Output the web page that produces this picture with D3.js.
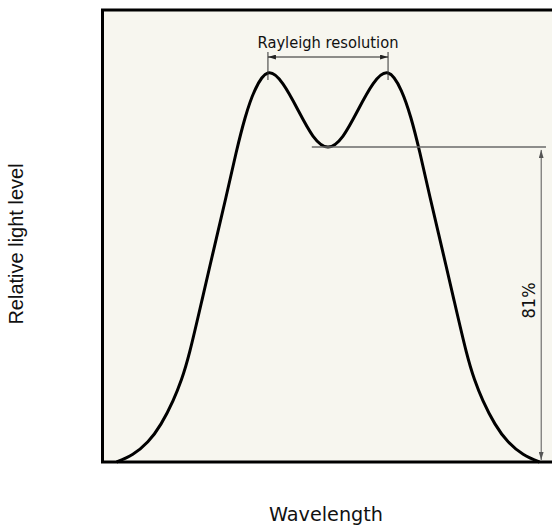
<!DOCTYPE html>
<html>
<head>
<meta charset="utf-8">
<script src="https://cdn.jsdelivr.net/npm/d3@7"></script>
<style>
  html, body { margin: 0; padding: 0; background: #ffffff; }
  svg { display: block; }
</style>
</head>
<body>
<svg id="chart" width="552" height="527"></svg>
<script>
// Two overlapping spectral lines at the Rayleigh limit (wavelength in arbitrary units)
const wavelength = [-3.52, -3.25, -3.0, -2.78, -2.58, -2.44, -2.3, -2.1, -1.9, -1.7, -1.53, -1.38, -1.22, -1.0,
                    -0.75, -0.5, -0.25, 0, 0.25, 0.5, 0.75,
                    1.0, 1.22, 1.38, 1.53, 1.7, 1.9, 2.1, 2.3, 2.44, 2.58, 2.78, 3.0, 3.25, 3.52];
const level = [0, 0.02, 0.052, 0.098, 0.158, 0.212, 0.285, 0.415, 0.548, 0.68, 0.795, 0.885, 0.955, 1.0,
               0.972, 0.905, 0.838, 0.81, 0.838, 0.905, 0.972,
               1.0, 0.955, 0.885, 0.795, 0.68, 0.548, 0.415, 0.285, 0.212, 0.158, 0.098, 0.052, 0.02, 0];

// Annotated features
const peakPositions = [-1.0, 1.0];
const peakLevel = 1.0;
const dipPosition = 0;
const dipLevel = 0.81;
const axisTitles = { x: "Wavelength", y: "Relative light level" };
const resolutionLabel = "Rayleigh resolution";

const svg = d3.select("#chart");

const x = d3.scaleLinear().domain([-3.78, 3.78]).range([101, 555]);
const y = d3.scaleLinear().domain([0, 1.162]).range([462, 10]);

const labelFont = "'DejaVu Sans', Verdana, sans-serif";

// Plot frame
svg.append("rect")
  .attr("x", x(-3.78) + 1.5)
  .attr("y", y(1.162))
  .attr("width", x(3.78) - x(-3.78))
  .attr("height", y(0) - y(1.162))
  .attr("fill", "#f7f6ef")
  .attr("stroke", "#000")
  .attr("stroke-width", 3);

// Arrowhead markers
const defs = svg.append("defs");
function marker(id, color) {
  defs.append("marker")
    .attr("id", id)
    .attr("viewBox", "0 0 10 6")
    .attr("refX", 10).attr("refY", 3)
    .attr("markerWidth", 8).attr("markerHeight", 5)
    .attr("markerUnits", "userSpaceOnUse")
    .attr("orient", "auto-start-reverse")
    .append("path")
    .attr("d", "M0,0 L10,3 L0,6 Z")
    .attr("fill", color);
}
marker("arrDark", "#222");
marker("arrGrey", "#555");

// Intensity profile (smooth spline through the sampled levels)
const line = d3.line()
  .x((d, i) => x(wavelength[i]))
  .y(d => y(d))
  .curve(d3.curveNatural);

svg.append("path")
  .datum(level)
  .attr("d", line)
  .attr("fill", "none")
  .attr("stroke", "#000")
  .attr("stroke-width", 3)
  .attr("stroke-linejoin", "round");

// Rayleigh resolution: separation between the two peaks
const py = y(peakLevel);
peakPositions.forEach(p => {
  svg.append("line")
    .attr("x1", x(p)).attr("x2", x(p))
    .attr("y1", py - 21).attr("y2", py + 7)
    .attr("stroke", "#333").attr("stroke-width", 1);
});
svg.append("line")
  .attr("x1", x(peakPositions[0])).attr("x2", x(peakPositions[1]))
  .attr("y1", py - 16).attr("y2", py - 16)
  .attr("stroke", "#222").attr("stroke-width", 1)
  .attr("marker-start", "url(#arrDark)")
  .attr("marker-end", "url(#arrDark)");
svg.append("text")
  .attr("x", x((peakPositions[0] + peakPositions[1]) / 2))
  .attr("y", py - 25)
  .attr("text-anchor", "middle")
  .attr("font-family", labelFont)
  .attr("font-size", 16)
  .attr("textLength", 141)
  .attr("lengthAdjust", "spacingAndGlyphs")
  .attr("fill", "#111")
  .text(resolutionLabel);

// Dip level relative to peak
const dy = y(dipLevel);
svg.append("line")
  .attr("x1", x(-0.27)).attr("x2", x(3.63))
  .attr("y1", dy).attr("y2", dy)
  .attr("stroke", "#6a6a6a").attr("stroke-width", 1.5);
svg.append("line")
  .attr("x1", x(3.55)).attr("x2", x(3.55))
  .attr("y1", y(0) - 2).attr("y2", dy + 3)
  .attr("stroke", "#555").attr("stroke-width", 1)
  .attr("marker-start", "url(#arrGrey)")
  .attr("marker-end", "url(#arrGrey)");
svg.append("text")
  .attr("transform", `translate(${x(3.55) - 6},${(dy + y(0)) / 2 - 4}) rotate(-90)`)
  .attr("text-anchor", "middle")
  .attr("font-family", labelFont)
  .attr("font-size", 17)
  .attr("textLength", 36)
  .attr("lengthAdjust", "spacingAndGlyphs")
  .attr("fill", "#111")
  .text(Math.round(dipLevel / peakLevel * 100) + "%");

// Axis titles
svg.append("text")
  .attr("x", x(0) - 2).attr("y", 521)
  .attr("text-anchor", "middle")
  .attr("font-family", labelFont)
  .attr("font-size", 19)
  .attr("textLength", 114)
  .attr("lengthAdjust", "spacingAndGlyphs")
  .attr("fill", "#111")
  .text(axisTitles.x);
svg.append("text")
  .attr("transform", "translate(23,244) rotate(-90)")
  .attr("text-anchor", "middle")
  .attr("font-family", "'Liberation Sans', Arial, sans-serif")
  .attr("font-size", 20)
  .attr("fill", "#111")
  .text(axisTitles.y);
</script>
</body>
</html>
